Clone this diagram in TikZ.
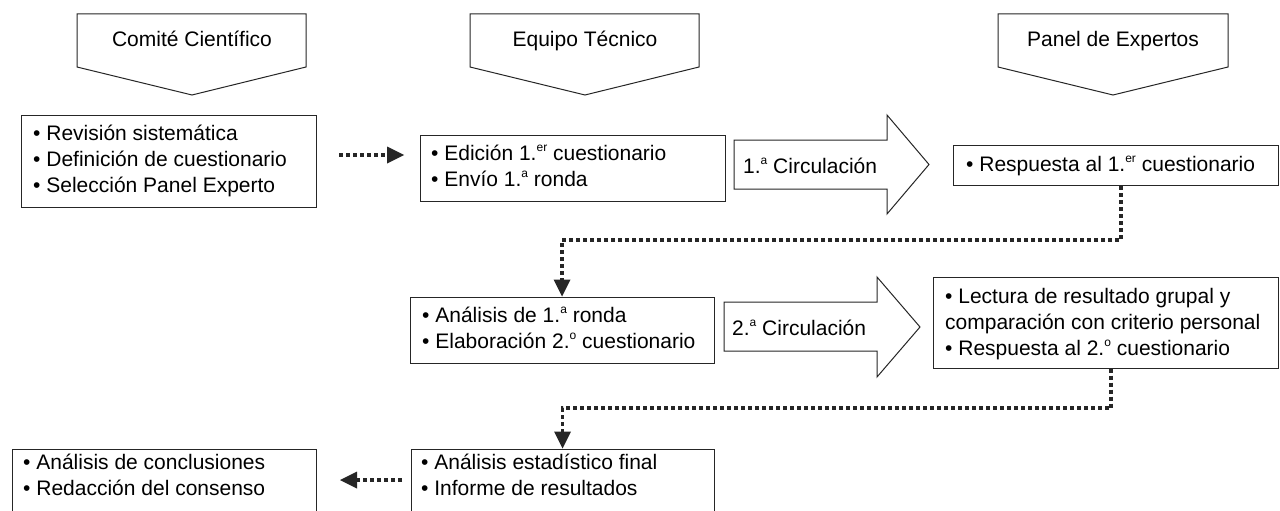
\documentclass[tikz,border=0pt]{standalone}
\usepackage{fontspec}
\setmainfont{Liberation Sans}
\usetikzlibrary{arrows.meta}
\newcommand\sups[1]{\raisebox{8.6pt}{\fontsize{12}{12}\selectfont #1}}
\begin{document}
\begin{tikzpicture}[x=1pt,y=-1pt,
  outline/.style={draw=black!85, line width=1pt},
  box/.style={outline, rectangle, inner sep=0pt},
  txt/.style={anchor=west, align=left, inner sep=0pt, font=\fontsize{21}{26}\selectfont},
  head/.style={anchor=base, inner sep=0pt, font=\fontsize{21}{26}\selectfont},
  dotline/.style={draw=black!85, line width=3.6pt, line cap=butt, dash pattern=on 4pt off 3pt},
  dotarrow/.style={dotline, -{Triangle[length=17pt,width=17pt,line width=0pt]}}
]
\useasboundingbox (0,0) rectangle (1280,511);
\clip (0,0) rectangle (1280,511);
\fill[white] (0,0) rectangle (1280,511);

% headers
\draw[outline] (77,14) -- (306,14) -- (306,67) -- (192,95) -- (77,67) -- cycle;
\node[head] (h1) at (192,47) {Comité Científico};
\draw[outline] (470,14) -- (699,14) -- (699,67) -- (585,95) -- (470,67) -- cycle;
\node[head] (h2) at (585,47) {Equipo Técnico};
\draw[outline] (998,14) -- (1228,14) -- (1228,67) -- (1113,95) -- (998,67) -- cycle;
\node[head] (h3) at (1113,47) {Panel de Expertos};

% boxes
\node[box, minimum width=295pt, minimum height=92pt] (b1) at (168.5,161) {};
\node[txt] (t1) at (33,161) {\strut• Revisión sistemática\\\strut• Definición de cuestionario\\\strut• Selección Panel Experto};

\node[box, minimum width=305pt, minimum height=66pt] (b2) at (572.5,168) {};
\node[txt] (t2) at (431,168) {\strut• Edición 1.\sups{er} cuestionario\\\strut• Envío 1.\sups{a} ronda};

\node[box, minimum width=325pt, minimum height=40pt] (b3) at (1115.5,165.5) {};
\node[txt] (t3) at (966,166) {\strut• Respuesta al 1.\sups{er} cuestionario};

\node[box, minimum width=304pt, minimum height=66pt] (b4) at (562,330) {};
\node[txt] (t4) at (422,330) {\strut• Análisis de 1.\sups{a} ronda\\\strut• Elaboración 2.\sups{o} cuestionario};

\node[box, minimum width=345pt, minimum height=91pt] (b5) at (1105.5,322.5) {};
\node[txt] (t5) at (945,324) {\strut• Lectura de resultado grupal y\\\strut comparación con criterio personal\\\strut• Respuesta al 2.\sups{o} cuestionario};

\node[box, minimum width=303pt, minimum height=66pt] (b6) at (562.5,482) {};
\node[txt] (t6) at (421,477) {\strut• Análisis estadístico final\\\strut• Informe de resultados};

\node[box, minimum width=304pt, minimum height=66pt] (b7) at (164,482) {};
\node[txt] (t7) at (23,477) {\strut• Análisis de conclusiones\\\strut• Redacción del consenso};

% big arrows
\draw[outline] (734,140) -- (887,140) -- (887,115) -- (929,164.5) -- (887,214) -- (887,189) -- (734,189) -- cycle;
\node[head, anchor=base west] (l1) at (743,173) {1.\sups{a} Circulación};
\draw[outline] (724,302) -- (877,302) -- (877,277) -- (920,327) -- (877,377) -- (877,351) -- (724,351) -- cycle;
\node[head, anchor=base west] (l2) at (732,335) {2.\sups{a} Circulación};

% connectors
\coordinate (c1s) at (339,155);
\coordinate (c1e) at (404,155);
\draw[dotarrow] (c1s) -- (c1e);

\draw[dotarrow] (b3.south -| 1121,0) |- (562,240) -- (b4.north);
\draw[dotarrow] (b5.south -| 1111,0) |- (562.5,408) -- (b6.north);

\coordinate (c4s) at (402,480);
\coordinate (c4e) at (340,480);
\draw[dotarrow] (c4s) -- (c4e);
\end{tikzpicture}
\end{document}
